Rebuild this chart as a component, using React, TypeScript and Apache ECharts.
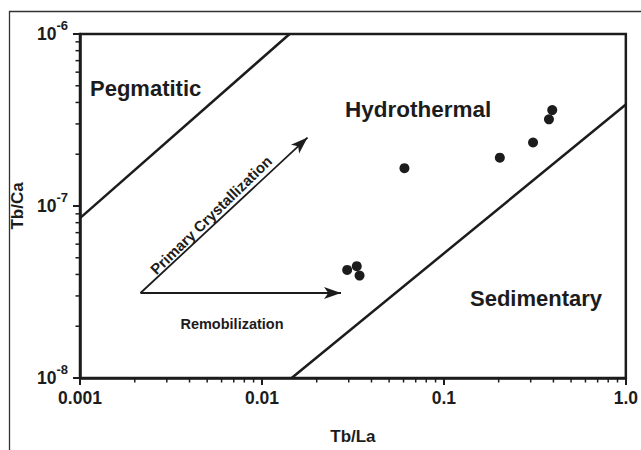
import React, { useEffect, useRef } from "react";
import * as echarts from "echarts";

// ---- data ----
const X_TICK_LABELS = ["0.001", "0.01", "0.1", "1.0"];
const X_MIN = 0.001;
const X_MAX = 1;
const Y_MIN = 1e-8;
const Y_MAX = 1e-6;

// samples: [Tb/La, Tb/Ca]
const SAMPLE_X = [0.0294, 0.0332, 0.0344, 0.0607, 0.203, 0.309, 0.378, 0.394];
const SAMPLE_Y = [4.25e-8, 4.47e-8, 3.94e-8, 1.66e-7, 1.91e-7, 2.34e-7, 3.19e-7, 3.61e-7];

// field boundaries
const UPPER_BOUNDARY: [number, number][] = [
  [0.001, 8.5e-8],
  [0.01419, 1e-6],
];
const LOWER_BOUNDARY: [number, number][] = [
  [0.01456, 1e-8],
  [1, 3.89e-7],
];

// trend arrows
const ARROW_ORIGIN: [number, number] = [0.00215, 3.12e-8];
const ARROW_PRIMARY_END: [number, number] = [0.0178, 2.5e-7];
const ARROW_REMOB_END: [number, number] = [0.0272, 3.12e-8];

// minor tick multipliers
const MINOR_MULT = [2, 3, 4, 5, 6, 7, 8, 9];
const X_DECADES = [0.001, 0.01, 0.1];
const Y_DECADES = [1e-8, 1e-7];

const FONT = "'Liberation Sans', Arial, Helvetica, sans-serif";
const INK = "#1c1c1c";

export default function App() {
  const ref = useRef<HTMLDivElement>(null);
  useEffect(() => {
    document.body.style.margin = "0";
    if (!ref.current) return;
    const chart = echarts.init(ref.current, undefined, { renderer: "svg" });

    const xMinor: number[][] = [];
    X_DECADES.forEach((d) => MINOR_MULT.forEach((m) => xMinor.push([d * m, Y_MIN])));
    const yMinor: number[][] = [];
    Y_DECADES.forEach((d) => MINOR_MULT.forEach((m) => yMinor.push([X_MIN, d * m])));

    const option: any = {
      animation: false,
      backgroundColor: "#ffffff",
      grid: {
        left: 80,
        right: 14,
        top: 34,
        bottom: 54,
        show: true,
        borderColor: INK,
        borderWidth: 2.5,
        backgroundColor: "transparent",
      },
      xAxis: {
        type: "log",
        logBase: 10,
        min: X_MIN,
        max: X_MAX,
        name: "Tb/La",
        nameLocation: "middle",
        nameGap: 50,
        nameTextStyle: { fontFamily: FONT, fontWeight: "bold", fontSize: 17, color: INK },
        axisLine: { show: true, lineStyle: { color: INK, width: 2.5 } },
        axisTick: { show: true, inside: false, length: 7, lineStyle: { color: INK, width: 2 } },
        splitLine: { show: false },
        axisLabel: {
          margin: 11,
          fontFamily: FONT,
          fontWeight: "bold",
          fontSize: 17.5,
          color: INK,
          formatter: (v: number) => X_TICK_LABELS[Math.round(Math.log10(v)) + 3] ?? "",
        },
      },
      yAxis: {
        type: "log",
        logBase: 10,
        min: Y_MIN,
        max: Y_MAX,
        name: "Tb/Ca",
        nameLocation: "middle",
        nameGap: 48,
        nameRotate: 90,
        nameTextStyle: { fontFamily: FONT, fontWeight: "bold", fontSize: 17, color: INK },
        axisLine: { show: true, lineStyle: { color: INK, width: 2.5 } },
        axisTick: { show: true, inside: false, length: 7, lineStyle: { color: INK, width: 2 } },
        splitLine: { show: false },
        axisLabel: {
          margin: 12,
          color: INK,
          formatter: (v: number) => `{b|10}{s|${Math.round(Math.log10(v))}}`,
          rich: {
            b: { fontFamily: FONT, fontWeight: "bold", fontSize: 17.5, color: INK, lineHeight: 30, verticalAlign: "middle" },
            s: { fontFamily: FONT, fontWeight: "bold", fontSize: 13, color: INK, lineHeight: 8, verticalAlign: "top" },
          },
        },
      },
      series: [
        {
          type: "line",
          data: UPPER_BOUNDARY,
          symbol: "none",
          lineStyle: { color: INK, width: 2.5 },
          silent: true,
        },
        {
          type: "line",
          data: LOWER_BOUNDARY,
          symbol: "none",
          lineStyle: { color: INK, width: 2.5 },
          silent: true,
        },
        {
          type: "line",
          data: [],
          markLine: {
            silent: true,
            symbol: ["none", "arrow"],
            symbolSize: [9, 17],
            label: { show: false },
            lineStyle: { color: INK, width: 1.8, type: "solid" },
            data: [
              [{ coord: ARROW_ORIGIN }, { coord: ARROW_PRIMARY_END }],
              [{ coord: ARROW_ORIGIN }, { coord: ARROW_REMOB_END }],
            ],
          },
        },
        {
          type: "scatter",
          data: SAMPLE_X.map((x, i) => [x, SAMPLE_Y[i]]),
          symbol: "circle",
          symbolSize: 10,
          itemStyle: { color: INK, opacity: 1 },
        },
        {
          type: "custom",
          silent: true,
          clip: false,
          data: xMinor,
          renderItem: (_p: any, api: any) => {
            const pt = api.coord([api.value(0), api.value(1)]);
            return {
              type: "line",
              shape: { x1: pt[0], y1: pt[1], x2: pt[0], y2: pt[1] + 4.5 },
              style: { stroke: INK, lineWidth: 1.5 },
            };
          },
        },
        {
          type: "custom",
          silent: true,
          clip: false,
          data: yMinor,
          renderItem: (_p: any, api: any) => {
            const pt = api.coord([api.value(0), api.value(1)]);
            return {
              type: "line",
              shape: { x1: pt[0], y1: pt[1], x2: pt[0] - 4.5, y2: pt[1] },
              style: { stroke: INK, lineWidth: 1.5 },
            };
          },
        },
      ],
      graphic: [
        {
          type: "rect",
          silent: true,
          shape: { x: 9.5, y: 11.5, width: 700, height: 600 },
          style: { fill: "none", stroke: "#333", lineWidth: 1.3 },
          z: -1,
        },
        {
          type: "text",
          x: 90,
          y: 88,
          style: { text: "Pegmatitic", fontFamily: FONT, fontWeight: "bold", fontSize: 22, fill: INK, verticalAlign: "middle", align: "left" },
        },
        {
          type: "text",
          x: 345,
          y: 109,
          style: { text: "Hydrothermal", fontFamily: FONT, fontWeight: "bold", fontSize: 22.5, fill: INK, verticalAlign: "middle", align: "left" },
        },
        {
          type: "text",
          x: 470,
          y: 298,
          style: { text: "Sedimentary", fontFamily: FONT, fontWeight: "bold", fontSize: 22, fill: INK, verticalAlign: "middle", align: "left" },
        },
        {
          type: "text",
          x: 211,
          y: 215,
          rotation: (44.2 * Math.PI) / 180,
          style: { text: "Primary Crystallization", fontFamily: FONT, fontWeight: "bold", fontSize: 15, fill: INK, verticalAlign: "middle", align: "center" },
        },
        {
          type: "text",
          x: 232,
          y: 324,
          style: { text: "Remobilization", fontFamily: FONT, fontWeight: "bold", fontSize: 14.5, fill: INK, verticalAlign: "middle", align: "center" },
        },
      ],
    };

    chart.setOption(option);
    return () => chart.dispose();
  }, []);

  return <div ref={ref} style={{ width: 641, height: 450 }} />;
}
